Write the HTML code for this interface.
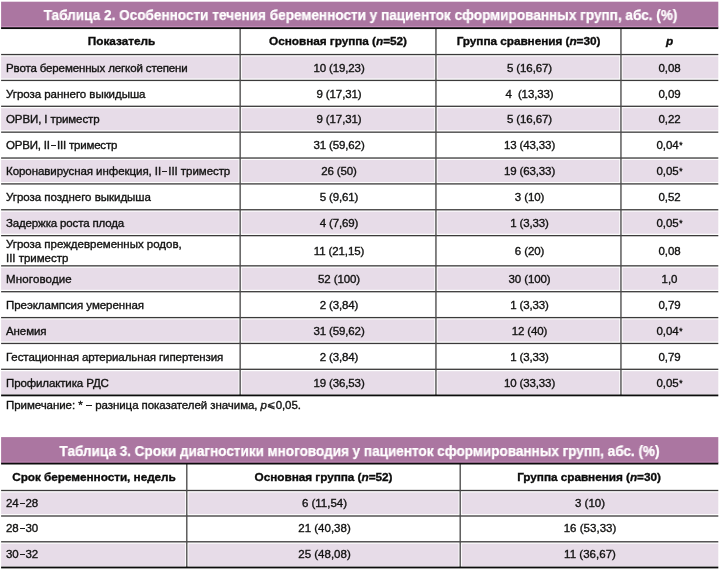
<!DOCTYPE html>
<html><head><meta charset="utf-8"><title>t</title>
<style>
html,body{margin:0;padding:0;background:#fff;}
body{width:720px;height:573px;position:relative;overflow:hidden;font-family:"Liberation Sans",sans-serif;color:#111110;}
.a{position:absolute;}
.bar{position:absolute;left:1px;width:717px;background:#ab76a1;}
.row{position:absolute;left:1px;width:717px;background:#e7dce8;}
.hl{position:absolute;left:1px;width:717px;height:1px;background:#3a3838;}
.tl{position:absolute;left:1px;width:717px;height:1.5px;background:#151515;}
.vl{position:absolute;width:1px;background:#2e2c2c;box-shadow:-1px 0 0 rgba(255,255,255,.75),1px 0 0 rgba(255,255,255,.75);}
.t,.ttl{will-change:transform;}
.t{-webkit-text-stroke:0.35px #111110;}
.t{position:absolute;white-space:nowrap;font-size:11.5px;line-height:14px;}
.c{text-align:center;}
.h{font-weight:bold;font-size:11.8px;color:#0a0a0a;letter-spacing:-0.05px;}
.ttl{position:absolute;left:1px;width:717px;text-align:center;color:#fff;font-weight:bold;font-size:14.2px;line-height:16px;white-space:nowrap;transform:scaleX(0.958);-webkit-text-stroke:0.25px #fff;}
i{font-style:italic;}
.d{display:inline-block;width:5px;height:1px;background:#1c1c1b;vertical-align:3.5px;margin:0 1.1px;}
</style></head><body>

<svg class="a" style="left:0;top:0" width="720" height="573" viewBox="0 0 720 573"><rect x="1.10" y="1.70" width="717.20" height="25.90" fill="#ab76a1"/><rect x="1.10" y="26.00" width="717.20" height="1.40" fill="#c58cba"/><rect x="1.10" y="56.45" width="717.20" height="22.07" fill="#e7dce8"/><rect x="1.10" y="108.19" width="717.20" height="22.07" fill="#e7dce8"/><rect x="1.10" y="159.93" width="717.20" height="22.07" fill="#e7dce8"/><rect x="1.10" y="211.67" width="717.20" height="22.07" fill="#e7dce8"/><rect x="1.10" y="267.75" width="717.20" height="22.05" fill="#e7dce8"/><rect x="1.10" y="319.50" width="717.20" height="22.05" fill="#e7dce8"/><rect x="1.10" y="371.20" width="717.20" height="23.05" fill="#e7dce8"/><rect x="1.10" y="437.10" width="717.20" height="26.20" fill="#ab76a1"/><rect x="1.10" y="461.60" width="717.20" height="1.40" fill="#c58cba"/><rect x="1.10" y="492.40" width="717.20" height="21.70" fill="#e7dce8"/><rect x="1.10" y="543.70" width="717.20" height="22.65" fill="#e7dce8"/><rect x="238.53" y="28.50" width="3.25" height="366.50" fill="#fff"/><rect x="434.32" y="28.50" width="3.25" height="366.50" fill="#fff"/><rect x="619.33" y="28.50" width="3.25" height="366.50" fill="#fff"/><rect x="185.18" y="464.00" width="3.25" height="103.00" fill="#fff"/><rect x="458.57" y="464.00" width="3.25" height="103.00" fill="#fff"/><rect x="1.10" y="53.90" width="717.20" height="1.30" fill="#3b3a3a"/><rect x="1.10" y="79.77" width="717.20" height="1.30" fill="#3b3a3a"/><rect x="1.10" y="105.64" width="717.20" height="1.30" fill="#3b3a3a"/><rect x="1.10" y="131.51" width="717.20" height="1.30" fill="#3b3a3a"/><rect x="1.10" y="157.38" width="717.20" height="1.30" fill="#3b3a3a"/><rect x="1.10" y="183.25" width="717.20" height="1.30" fill="#3b3a3a"/><rect x="1.10" y="209.12" width="717.20" height="1.30" fill="#3b3a3a"/><rect x="1.10" y="234.99" width="717.20" height="1.30" fill="#3b3a3a"/><rect x="1.10" y="265.20" width="717.20" height="1.30" fill="#3b3a3a"/><rect x="1.10" y="291.05" width="717.20" height="1.30" fill="#3b3a3a"/><rect x="1.10" y="316.95" width="717.20" height="1.30" fill="#3b3a3a"/><rect x="1.10" y="342.80" width="717.20" height="1.30" fill="#3b3a3a"/><rect x="1.10" y="368.65" width="717.20" height="1.30" fill="#3b3a3a"/><rect x="1.10" y="489.85" width="717.20" height="1.30" fill="#3b3a3a"/><rect x="1.10" y="515.35" width="717.20" height="1.30" fill="#3b3a3a"/><rect x="1.10" y="541.15" width="717.20" height="1.30" fill="#3b3a3a"/><rect x="239.47" y="28.50" width="1.35" height="366.50" fill="#4c4b4b"/><rect x="435.27" y="28.50" width="1.35" height="366.50" fill="#4c4b4b"/><rect x="620.28" y="28.50" width="1.35" height="366.50" fill="#4c4b4b"/><rect x="186.12" y="464.00" width="1.35" height="103.00" fill="#4c4b4b"/><rect x="459.52" y="464.00" width="1.35" height="103.00" fill="#4c4b4b"/><rect x="1.10" y="27.25" width="717.20" height="1.80" fill="#0c0c0c"/><rect x="1.10" y="394.50" width="717.20" height="1.80" fill="#0c0c0c"/><rect x="1.10" y="462.70" width="717.20" height="1.80" fill="#0c0c0c"/><rect x="1.10" y="566.60" width="717.20" height="1.80" fill="#0c0c0c"/></svg>
<div class="ttl" style="top:7px;letter-spacing:-0.012px;margin-left:0.5px">Таблица 2. Особенности течения беременности у пациенток сформированных групп, абс. (%)</div>
<div class="t c h" style="left:2px;width:239px;top:34px;letter-spacing:-0.03px">Показатель</div>
<div class="t c h" style="left:240px;width:196px;top:34px;letter-spacing:-0.05px">Основная группа (<i>n</i>=52)</div>
<div class="t c h" style="left:436px;width:185px;top:34px;letter-spacing:-0.05px">Группа сравнения (<i>n</i>=30)</div>
<div class="t c h" style="left:621px;width:97px;top:34px;letter-spacing:-0.05px"><i>p</i></div>
<div class="t " style="left:5.6px;top:61px;letter-spacing:-0.129px">Рвота беременных легкой степени</div>
<div class="t c " style="left:241px;width:196px;top:61px;letter-spacing:-0.12px">10 (19,23)</div>
<div class="t c " style="left:436.5px;width:185.0px;top:61px;letter-spacing:-0.12px">5 (16,67)</div>
<div class="t c " style="left:620.6px;width:97.0px;top:61px;letter-spacing:-0.05px">0,08</div>
<div class="t " style="left:5.6px;top:87px;letter-spacing:-0.04px">Угроза раннего выкидыша</div>
<div class="t c " style="left:241px;width:196px;top:87px;letter-spacing:-0.12px">9 (17,31)</div>
<div class="t c " style="left:436.5px;width:185.0px;top:87px;letter-spacing:-0.12px">4&nbsp; (13,33)</div>
<div class="t c " style="left:620.6px;width:97.0px;top:87px;letter-spacing:-0.05px">0,09</div>
<div class="t " style="left:5.6px;top:112px;letter-spacing:-0.1px">ОРВИ, I триместр</div>
<div class="t c " style="left:241px;width:196px;top:112px;letter-spacing:-0.12px">9 (17,31)</div>
<div class="t c " style="left:436.5px;width:185.0px;top:112px;letter-spacing:-0.12px">5 (16,67)</div>
<div class="t c " style="left:620.6px;width:97.0px;top:112px;letter-spacing:-0.05px">0,22</div>
<div class="t " style="left:5.6px;top:138px;letter-spacing:-0.198px">ОРВИ, II<span class="d"></span>III триместр</div>
<div class="t c " style="left:241px;width:196px;top:138px;letter-spacing:-0.12px">31 (59,62)</div>
<div class="t c " style="left:436.5px;width:185.0px;top:138px;letter-spacing:-0.12px">13 (43,33)</div>
<div class="t c " style="left:620.6px;width:97.0px;top:138px;letter-spacing:-0.05px">0,04<span style="font-size:8.5px;vertical-align:0.9px;line-height:8px;margin-left:.5px">*</span></div>
<div class="t " style="left:5.6px;top:164px;letter-spacing:-0.057px">Коронавирусная инфекция, II<span class="d"></span>III триместр</div>
<div class="t c " style="left:241px;width:196px;top:164px;letter-spacing:-0.12px">26 (50)</div>
<div class="t c " style="left:436.5px;width:185.0px;top:164px;letter-spacing:-0.12px">19 (63,33)</div>
<div class="t c " style="left:620.6px;width:97.0px;top:164px;letter-spacing:-0.05px">0,05<span style="font-size:8.5px;vertical-align:0.9px;line-height:8px;margin-left:.5px">*</span></div>
<div class="t " style="left:5.6px;top:190px;letter-spacing:-0.023px">Угроза позднего выкидыша</div>
<div class="t c " style="left:241px;width:196px;top:190px;letter-spacing:-0.12px">5 (9,61)</div>
<div class="t c " style="left:436.5px;width:185.0px;top:190px;letter-spacing:-0.12px">3 (10)</div>
<div class="t c " style="left:620.6px;width:97.0px;top:190px;letter-spacing:-0.05px">0,52</div>
<div class="t " style="left:5.6px;top:216px;letter-spacing:-0.145px">Задержка роста плода</div>
<div class="t c " style="left:241px;width:196px;top:216px;letter-spacing:-0.12px">4 (7,69)</div>
<div class="t c " style="left:436.5px;width:185.0px;top:216px;letter-spacing:-0.12px">1 (3,33)</div>
<div class="t c " style="left:620.6px;width:97.0px;top:216px;letter-spacing:-0.05px">0,05<span style="font-size:8.5px;vertical-align:0.9px;line-height:8px;margin-left:.5px">*</span></div>
<div class="t " style="left:5.6px;top:237px;letter-spacing:-0.02px">Угроза преждевременных родов,<br>III триместр</div>
<div class="t c " style="left:241px;width:196px;top:244px;letter-spacing:-0.12px">11 (21,15)</div>
<div class="t c " style="left:436.5px;width:185.0px;top:244px;letter-spacing:-0.12px">6 (20)</div>
<div class="t c " style="left:620.6px;width:97.0px;top:244px;letter-spacing:-0.05px">0,08</div>
<div class="t " style="left:5.6px;top:272px;letter-spacing:0.16px">Многоводие</div>
<div class="t c " style="left:241px;width:196px;top:272px;letter-spacing:-0.12px">52 (100)</div>
<div class="t c " style="left:436.5px;width:185.0px;top:272px;letter-spacing:-0.12px">30 (100)</div>
<div class="t c " style="left:620.6px;width:97.0px;top:272px;letter-spacing:-0.05px">1,0</div>
<div class="t " style="left:5.6px;top:298px;letter-spacing:-0.045px">Преэклампсия умеренная</div>
<div class="t c " style="left:241px;width:196px;top:298px;letter-spacing:-0.12px">2 (3,84)</div>
<div class="t c " style="left:436.5px;width:185.0px;top:298px;letter-spacing:-0.12px">1 (3,33)</div>
<div class="t c " style="left:620.6px;width:97.0px;top:298px;letter-spacing:-0.05px">0,79</div>
<div class="t " style="left:5.6px;top:324px;letter-spacing:-0.097px">Анемия</div>
<div class="t c " style="left:241px;width:196px;top:324px;letter-spacing:-0.12px">31 (59,62)</div>
<div class="t c " style="left:436.5px;width:185.0px;top:324px;letter-spacing:-0.12px">12 (40)</div>
<div class="t c " style="left:620.6px;width:97.0px;top:324px;letter-spacing:-0.05px">0,04<span style="font-size:8.5px;vertical-align:0.9px;line-height:8px;margin-left:.5px">*</span></div>
<div class="t " style="left:5.6px;top:350px;letter-spacing:-0.086px">Гестационная артериальная гипертензия</div>
<div class="t c " style="left:241px;width:196px;top:350px;letter-spacing:-0.12px">2 (3,84)</div>
<div class="t c " style="left:436.5px;width:185.0px;top:350px;letter-spacing:-0.12px">1 (3,33)</div>
<div class="t c " style="left:620.6px;width:97.0px;top:350px;letter-spacing:-0.05px">0,79</div>
<div class="t " style="left:5.6px;top:376px;letter-spacing:-0.124px">Профилактика РДС</div>
<div class="t c " style="left:241px;width:196px;top:376px;letter-spacing:-0.12px">19 (36,53)</div>
<div class="t c " style="left:436.5px;width:185.0px;top:376px;letter-spacing:-0.12px">10 (33,33)</div>
<div class="t c " style="left:620.6px;width:97.0px;top:376px;letter-spacing:-0.05px">0,05<span style="font-size:8.5px;vertical-align:0.9px;line-height:8px;margin-left:.5px">*</span></div>
<div class="t " style="left:5.6px;top:398px;letter-spacing:-0.065px">Примечание: * <span class="d" style="width:5.6px;margin:0 .4px"></span> разница показателей значима, <i>p</i><span style="font-size:10px;vertical-align:1.4px;margin:0 .5px 0 .3px;line-height:8px">⩽</span>0,05.</div>
<div class="ttl" style="top:443px;letter-spacing:-0.03px;margin-left:0.4px">Таблица 3. Сроки диагностики многоводия у пациенток сформированных групп, абс. (%)</div>
<div class="t c h" style="left:1px;width:186px;top:470px;letter-spacing:-0.05px">Срок беременности, недель</div>
<div class="t c h" style="left:187px;width:273px;top:470px;letter-spacing:-0.05px">Основная группа (<i>n</i>=52)</div>
<div class="t c h" style="left:460px;width:258px;top:470px;letter-spacing:-0.05px">Группа сравнения (<i>n</i>=30)</div>
<div class="t " style="left:5.6px;top:496px;letter-spacing:-0.2px">24<span class="d"></span>28</div>
<div class="t c " style="left:187.6px;width:273.0px;top:496px;letter-spacing:-0.0px">6 (11,54)</div>
<div class="t c " style="left:461.4px;width:258.0px;top:496px;letter-spacing:0.03px">3 (10)</div>
<div class="t " style="left:5.6px;top:521px;letter-spacing:-0.2px">28<span class="d"></span>30</div>
<div class="t c " style="left:187.6px;width:273.0px;top:521px;letter-spacing:-0.0px">21 (40,38)</div>
<div class="t c " style="left:461.4px;width:258.0px;top:521px;letter-spacing:0.03px">16 (53,33)</div>
<div class="t " style="left:5.6px;top:547px;letter-spacing:-0.2px">30<span class="d"></span>32</div>
<div class="t c " style="left:187.6px;width:273.0px;top:547px;letter-spacing:-0.0px">25 (48,08)</div>
<div class="t c " style="left:461.4px;width:258.0px;top:547px;letter-spacing:0.03px">11 (36,67)</div>
</body></html>
